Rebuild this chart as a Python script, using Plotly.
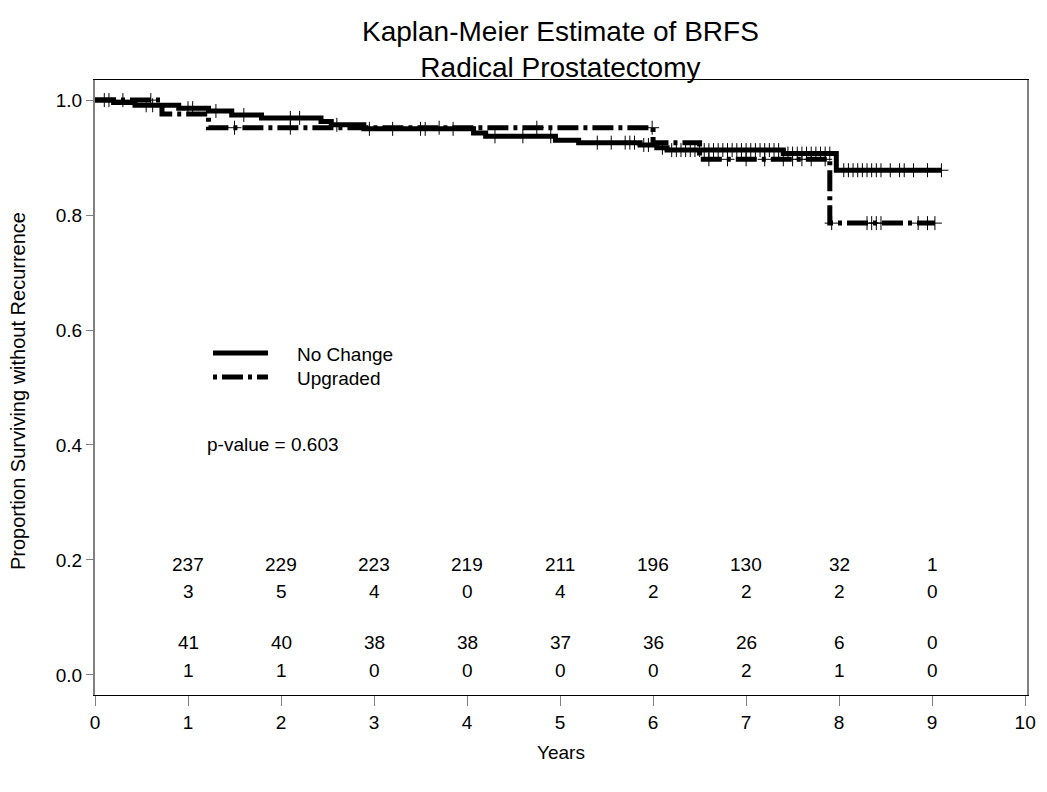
import numpy as np
import plotly.graph_objects as go

# ---- data ----
nc_time = [0.0, 0.20, 0.43, 0.90, 1.22, 1.47, 1.79, 2.43, 2.54, 2.89, 4.07, 4.20, 4.95, 5.20, 5.86, 6.04, 6.15, 7.40, 7.97, 9.10]
nc_surv = [1.000, 0.996, 0.991, 0.986, 0.981, 0.974, 0.969, 0.963, 0.957, 0.950, 0.943, 0.937, 0.930, 0.926, 0.922, 0.917, 0.913, 0.907, 0.878, 0.878]

up_time = [0.0, 0.72, 1.22, 6.00, 6.50, 7.90, 9.03]
up_surv = [1.000, 0.976, 0.952, 0.926, 0.897, 0.786, 0.786]

nc_censor = [0.10, 0.15, 0.55, 0.62, 1.00, 1.05, 1.30, 1.60, 2.10, 2.20, 2.60, 2.95, 3.20, 3.50, 3.55,
             3.85, 4.30, 4.60, 4.90, 5.40, 5.55, 5.70, 5.75, 5.80, 5.90, 5.95, 6.10, 6.20, 6.25, 6.30,
             6.35, 6.40, 6.45, 6.50, 6.55, 6.60, 6.65, 6.70, 6.75, 6.80, 6.85, 6.90, 6.95, 7.00, 7.05,
             7.10, 7.15, 7.20, 7.25, 7.30, 7.35, 7.45, 7.50, 7.55, 7.60, 7.65, 7.70, 7.75, 7.80, 7.85,
             7.90, 8.05, 8.10, 8.15, 8.20, 8.25, 8.30, 8.35, 8.40, 8.45, 8.55, 8.65, 8.70, 8.80, 8.95, 9.10]
up_censor = [0.30, 0.60, 1.50, 2.10, 3.70, 4.75, 5.99, 6.60, 6.80, 7.00, 7.20, 7.40, 7.50, 7.60, 7.70,
             7.85, 7.92, 8.30, 8.35, 8.40, 8.45, 8.85, 8.95, 9.03]

risk_years = [1, 2, 3, 4, 5, 6, 7, 8, 9]
nc_at_risk = [237, 229, 223, 219, 211, 196, 130, 32, 1]
nc_events = [3, 5, 4, 0, 4, 2, 2, 2, 0]
up_at_risk = [41, 40, 38, 38, 37, 36, 26, 6, 0]
up_events = [1, 1, 0, 0, 0, 0, 2, 1, 0]
risk_rows_y = [0.192, 0.145, 0.057, 0.007]

series_names = ["No Change", "Upgraded"]
p_value_text = "p-value = 0.603"
title_lines = ["Kaplan-Meier Estimate of BRFS", "Radical Prostatectomy"]


def step_value(times, surv, t):
    idx = np.searchsorted(np.array(times), np.array(t), side="right") - 1
    return np.array(surv)[np.clip(idx, 0, len(surv) - 1)]


FONT = "Liberation Sans, Arial, sans-serif"
FS = 19
CURVE_DASH = "21px,5px,4px,5px"
fig = go.Figure()

fig.add_trace(go.Scatter(x=nc_time, y=nc_surv, mode="lines", line_shape="hv",
                         line=dict(color="black", width=5), name=series_names[0], showlegend=False))
fig.add_trace(go.Scatter(x=up_time, y=up_surv, mode="lines", line_shape="hv",
                         line=dict(color="black", width=5, dash=CURVE_DASH), name=series_names[1],
                         showlegend=False))
fig.add_trace(go.Scatter(x=nc_censor, y=step_value(nc_time, nc_surv, nc_censor), mode="markers",
                         marker=dict(symbol="cross-thin", size=10, line=dict(color="black", width=1)),
                         showlegend=False, hoverinfo="skip"))
fig.add_trace(go.Scatter(x=up_censor, y=step_value(up_time, up_surv, up_censor), mode="markers",
                         marker=dict(symbol="cross-thin", size=10, line=dict(color="black", width=1)),
                         showlegend=False, hoverinfo="skip"))

# numbers at risk / events
rows = [nc_at_risk, nc_events, up_at_risk, up_events]
for row, yv in zip(rows, risk_rows_y):
    for xv, val in zip(risk_years, row):
        fig.add_annotation(x=xv, y=yv, text=str(val), showarrow=False,
                           xanchor="center", yanchor="middle",
                           font=dict(family=FONT, size=FS, color="black"))

fig.add_annotation(x=1.18, y=0.4, text=p_value_text, showarrow=False, xanchor="left",
                   yanchor="middle", font=dict(family=FONT, size=FS, color="black"))

# legend (drawn in paper space)
leg_y = [0.556, 0.517]
leg_dash = ["solid", "4px,5px,21px,5px"]
for name, yv, dsh in zip(series_names, leg_y, leg_dash):
    fig.add_shape(type="line", xref="paper", yref="paper", x0=0.1266, x1=0.1856, y0=yv, y1=yv,
                  line=dict(color="black", width=5, dash=dsh))
    fig.add_annotation(xref="paper", yref="paper", x=0.2146, y=yv - 0.003, text=name,
                       showarrow=False, xanchor="left", yanchor="middle",
                       font=dict(family=FONT, size=FS, color="black"))

# titles
fig.add_annotation(xref="paper", yref="paper", x=0.4995, y=(695 - 49) / 615,
                   text="<br>".join(title_lines),
                   showarrow=False, xanchor="center", yanchor="middle",
                   font=dict(family=FONT, size=28, color="black"))
fig.add_annotation(xref="paper", yref="paper", x=(18 - 95) / 932, y=(695 - 391) / 615,
                   text="Proportion Surviving without Recurrence", textangle=-90,
                   showarrow=False, xanchor="center", yanchor="middle",
                   font=dict(family=FONT, size=20, color="black"))
fig.add_annotation(xref="paper", yref="paper", x=0.4995, y=(695 - 752) / 615, text="Years",
                   showarrow=False, xanchor="center", yanchor="middle",
                   font=dict(family=FONT, size=FS, color="black"))

fig.update_layout(
    width=1047, height=792,
    paper_bgcolor="white", plot_bgcolor="white",
    margin=dict(l=95, r=20, t=80, b=97, autoexpand=False),
    font=dict(family=FONT, size=FS, color="black"),
    showlegend=False,
    xaxis=dict(range=[0, 10.02], tickmode="linear", tick0=0, dtick=1, automargin=False,
               showgrid=False, zeroline=False, showline=True, linecolor="black", linewidth=1,
               mirror=True, ticks="outside", ticklen=10, tickcolor="#808080", tickwidth=1,
               tickfont=dict(family=FONT, size=FS)),
    yaxis=dict(range=[-0.035, 1.035], tickmode="array", tickvals=[0, 0.2, 0.4, 0.6, 0.8, 1.0],
               tickformat=".1f", automargin=False,
               showgrid=False, zeroline=False, showline=True, linecolor="#808080", linewidth=2,
               mirror=True, ticks="outside", ticklen=7, tickcolor="#808080", tickwidth=1,
               tickfont=dict(family=FONT, size=FS)),
)

fig.write_html("out.html", post_script="document.body.style.margin='0px';",
               config={"displayModeBar": False})
